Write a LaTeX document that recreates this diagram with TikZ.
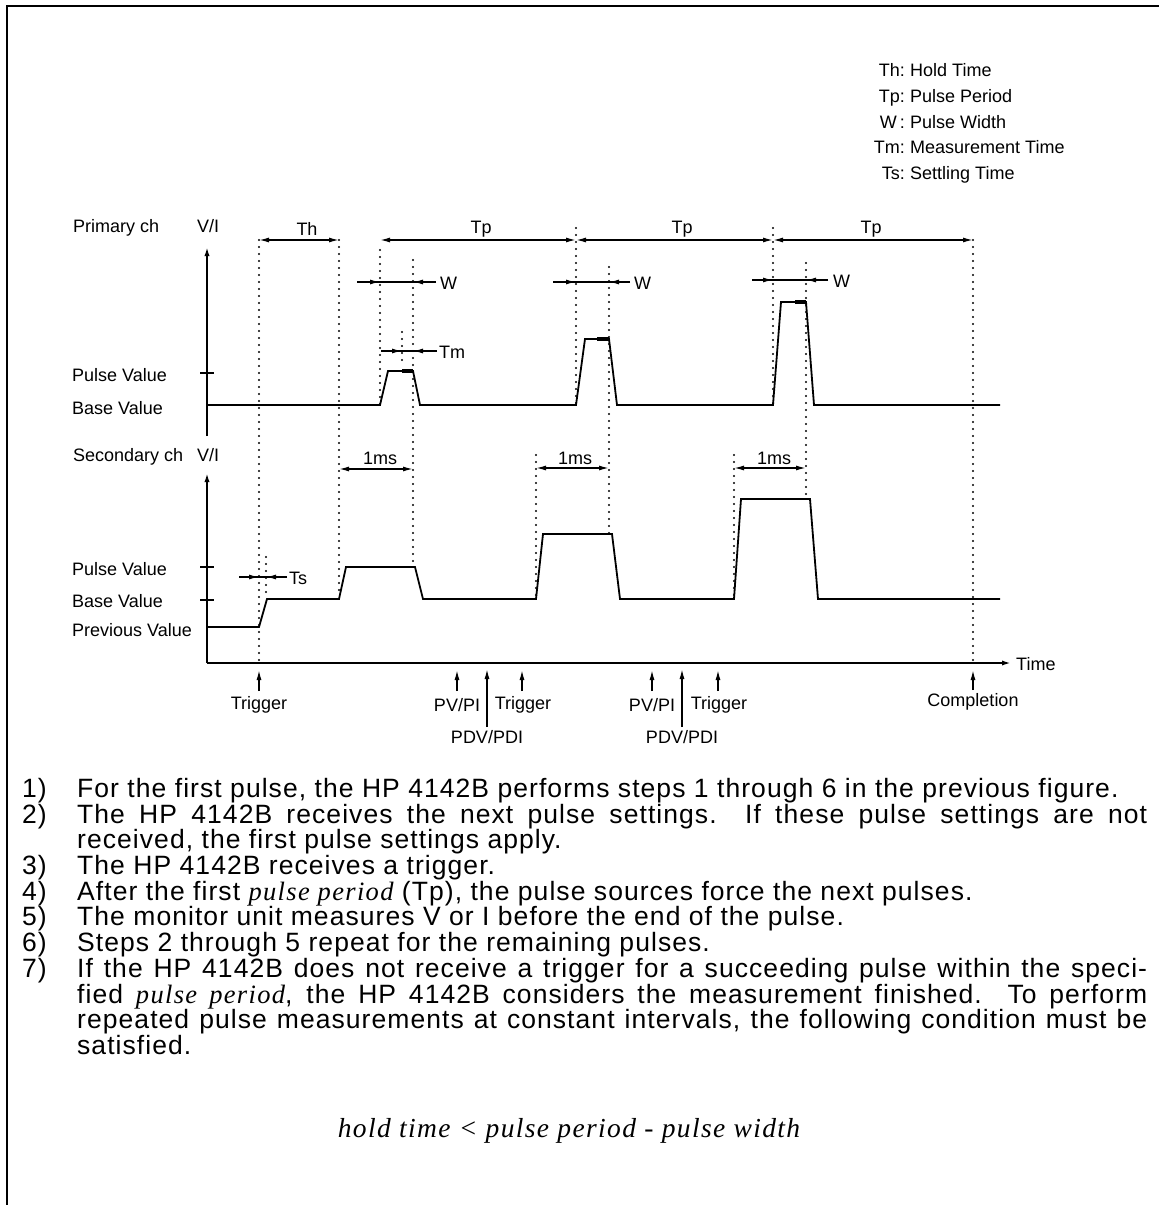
\documentclass[tikz,border=0pt]{standalone}
\usepackage{fontspec}
\setmainfont{Liberation Sans}
\newfontfamily\bodyf[LetterSpace=4]{Liberation Sans}
\newfontfamily\bodyser[LetterSpace=5]{Liberation Serif}
\usetikzlibrary{arrows.meta}
\begin{document}
\begin{tikzpicture}[x=1pt,y=-1pt,
  sig/.style={line width=1.8pt, line join=miter},
  meas/.style={line width=3.8pt},
  dotl/.style={line width=2.4pt, line cap=round, dash pattern=on 0pt off 7pt},
  axisl/.style={line width=2pt},
  tk/.style={-{Latex[length=10pt,width=5pt]}},
  dimar/.style={line width=1.4pt, tk},
  dimboth/.style={line width=1.4pt, {Latex[length=10pt,width=5pt]}-{Latex[length=10pt,width=5pt]}},
  dimln/.style={line width=1.4pt},
  lab/.style={inner sep=0pt, font=\fontsize{18}{20}\selectfont},
  leg/.style={inner sep=0pt, font=\fontsize{18}{20}\selectfont},
  body/.style={inner sep=0pt, anchor=base west, font=\bodyf\fontsize{26.5}{28}\selectfont}]
\useasboundingbox (0,0) rectangle (1159,1205);
% frame
\draw[line width=2.4pt] (7,1205) -- (7,6) -- (1159,6);

% legend
\foreach \ab/\tx/\yy [count=\i] in {Th/Hold Time/76, Tp/Pulse Period/102, W\,/Pulse Width/128, Tm/Measurement Time/153, Ts/Settling Time/179}{
  \node[leg, anchor=base east] (legab\i) at (905,\yy) {\ab:};
  \node[leg, anchor=base west] (legtx\i) at (910,\yy) {\tx};
}

% ---------- primary channel ----------
\node[lab, anchor=base west] (prim) at (73,232) {Primary ch};
\node[lab, anchor=base west] (pvi) at (197,232) {V/I};
\node[lab, anchor=base west] (ppv) at (72,381) {Pulse Value};
\node[lab, anchor=base west] (pbv) at (72,414) {Base Value};
\coordinate (pax0) at (207,436);
\coordinate (pax1) at (207,246);
\draw[axisl, tk] (pax0) -- (pax1);
\draw[axisl] (200,373) -- (214,373);

\draw[sig] (207,405) -- (380,405) -- (388,371) -- (413,371) -- (420,405)
  -- (576,405) -- (585,339) -- (609,339) -- (617,405)
  -- (773,405) -- (781,302) -- (806,302) -- (814,405) -- (1000,405);
\draw[meas] (402,371) -- (413,371);
\draw[meas] (597,339) -- (609,339);
\draw[meas] (795,302) -- (806,302);

% dotted guide lines
\draw[dotl] (259,240) -- (259,663);
\draw[dotl] (339,240) -- (339,597);
\draw[dotl] (380,250) -- (380,405);
\draw[dotl] (413,260) -- (413,567);
\draw[dotl] (402,332) -- (402,364);
\draw[dotl] (576,228) -- (576,405);
\draw[dotl] (609,267) -- (609,534);
\draw[dotl] (536,455) -- (536,599);
\draw[dotl] (773,228) -- (773,405);
\draw[dotl] (806,263) -- (806,499);
\draw[dotl] (734,455) -- (734,599);
\draw[dotl] (973,240) -- (973,663);
\draw[dotl] (266,557) -- (266,598);

% Th / Tp
\draw[dimboth] (259,240) -- (339,240);
\node[lab] (th) at (307,229) {Th};
\draw[dimboth] (380,240) -- (576,240);
\draw[dimboth] (576,240) -- (773,240);
\draw[dimboth] (773,240) -- (973,240);
\node[lab] (tp1) at (481,229) {Tp};
\node[lab] (tp2) at (682,229) {Tp};
\node[lab] (tp3) at (871,229) {Tp};

% W
\draw[dimln] (357,282) -- (436,282);
\draw[dimar] (357,282) -- (380,282);
\draw[dimar] (436,282) -- (413,282);
\node[lab, anchor=west] (w1) at (440,283) {W};
\draw[dimln] (553,282) -- (630,282);
\draw[dimar] (553,282) -- (576,282);
\draw[dimar] (630,282) -- (609,282);
\node[lab, anchor=west] (w2) at (634,283) {W};
\draw[dimln] (752,280) -- (828,280);
\draw[dimar] (752,280) -- (773,280);
\draw[dimar] (828,280) -- (806,280);
\node[lab, anchor=west] (w3) at (833,281) {W};

% Tm
\draw[dimln] (381,351) -- (437,351);
\draw[dimar] (381,351) -- (402,351);
\draw[dimar] (437,351) -- (413,351);
\node[lab, anchor=west] (tm) at (439,352) {Tm};

% ---------- secondary channel ----------
\node[lab, anchor=base west] (sec) at (73,461) {Secondary ch};
\node[lab, anchor=base west] (svi) at (197,461) {V/I};
\node[lab, anchor=base west] (spv) at (72,575) {Pulse Value};
\node[lab, anchor=base west] (sbv) at (72,607) {Base Value};
\node[lab, anchor=base west] (sprev) at (72,636) {Previous Value};
\coordinate (org) at (207,663);
\coordinate (sax1) at (207,472);
\coordinate (tax1) at (1012,663);
\draw[axisl, tk] (org) -- (sax1);
\draw[axisl, tk] (org) -- (tax1);
\node[lab, anchor=west] (time) at (1016,664) {Time};
\draw[axisl] (200,567) -- (214,567);
\draw[axisl] (200,600) -- (214,600);

\draw[sig] (207,627) -- (259,627) -- (267,599) -- (339,599) -- (346,567) -- (415,567) -- (423,599)
  -- (536,599) -- (543,534) -- (612,534) -- (620,599)
  -- (734,599) -- (741,499) -- (810,499) -- (818,599) -- (1000,599);

% Ts
\draw[dimln] (239,577) -- (287,577);
\draw[dimar] (239,577) -- (259,577);
\draw[dimar] (287,577) -- (266,577);
\node[lab, anchor=west] (ts) at (289,578) {Ts};

% 1ms
\draw[dimboth] (339,469) -- (413,469);
\node[lab] (ms1) at (380,458) {1ms};
\draw[dimboth] (536,468) -- (609,468);
\node[lab] (ms2) at (575,458) {1ms};
\draw[dimboth] (734,468) -- (806,468);
\node[lab] (ms3) at (774,458) {1ms};

% events
\node[lab] (trg1) at (259,705) {Trigger};
\draw[dimar] (259,691) -- (259,670);
\node[lab] (pv1) at (457,705) {PV/PI};
\draw[dimar] (457,691) -- (457,670);
\node[lab] (pd1) at (487,737) {PDV/PDI};
\draw[dimar] ([yshift=3pt]pd1.north) -- (487,669);
\node[lab] (trg2) at (523,705) {Trigger};
\draw[dimar] (522,691) -- (522,670);
\node[lab] (pv2) at (652,705) {PV/PI};
\draw[dimar] (652,691) -- (652,670);
\node[lab] (pd2) at (682,737) {PDV/PDI};
\draw[dimar] ([yshift=3pt]pd2.north) -- (682,669);
\node[lab] (trg3) at (719,705) {Trigger};
\draw[dimar] (718,691) -- (718,670);
\node[lab] (comp) at (973,702) {Completion};
\draw[dimar] (973,690) -- (973,670);

% ---------- text ----------
\node[body] (n1) at (22,797) {1)};
\node[body] (t1) at (77,797) {For the first pulse, the HP 4142B performs steps 1 through 6 in the previous figure.};
\node[body] (n2) at (22,823) {2)};
\node[body] (t2) at (77,823) {\makebox[1070pt][s]{The HP 4142B receives the next pulse settings.\ \ If these pulse settings are not}};
\node[body] (t2b) at (77,848) {received, the first pulse settings apply.};
\node[body] (n3) at (22,874) {3)};
\node[body] (t3) at (77,874) {The HP 4142B receives a trigger.};
\node[body] (n4) at (22,900) {4)};
\node[body] (t4) at (77,900) {After the first {\bodyser\itshape pulse period} (Tp), the pulse sources force the next pulses.};
\node[body] (n5) at (22,925) {5)};
\node[body] (t5) at (77,925) {The monitor unit measures V or I before the end of the pulse.};
\node[body] (n6) at (22,951) {6)};
\node[body] (t6) at (77,951) {Steps 2 through 5 repeat for the remaining pulses.};
\node[body] (n7) at (22,977) {7)};
\node[body] (t7) at (77,977) {\makebox[1070pt][s]{If the HP 4142B does not receive a trigger for a succeeding pulse within the speci-}};
\node[body] (t7b) at (77,1003) {\makebox[1070pt][s]{fied {\bodyser\itshape pulse period}, the HP 4142B considers the measurement finished.\ \ To perform}};
\node[body] (t7c) at (77,1028) {\makebox[1070pt][s]{repeated pulse measurements at constant intervals, the following condition must be}};
\node[body] (t7d) at (77,1054) {satisfied.};
\node[inner sep=0pt, anchor=base, font=\bodyser\itshape\fontsize{27.5}{30}\selectfont] (cond) at (569,1137) {hold time < pulse period - pulse width};
\end{tikzpicture}
\end{document}
